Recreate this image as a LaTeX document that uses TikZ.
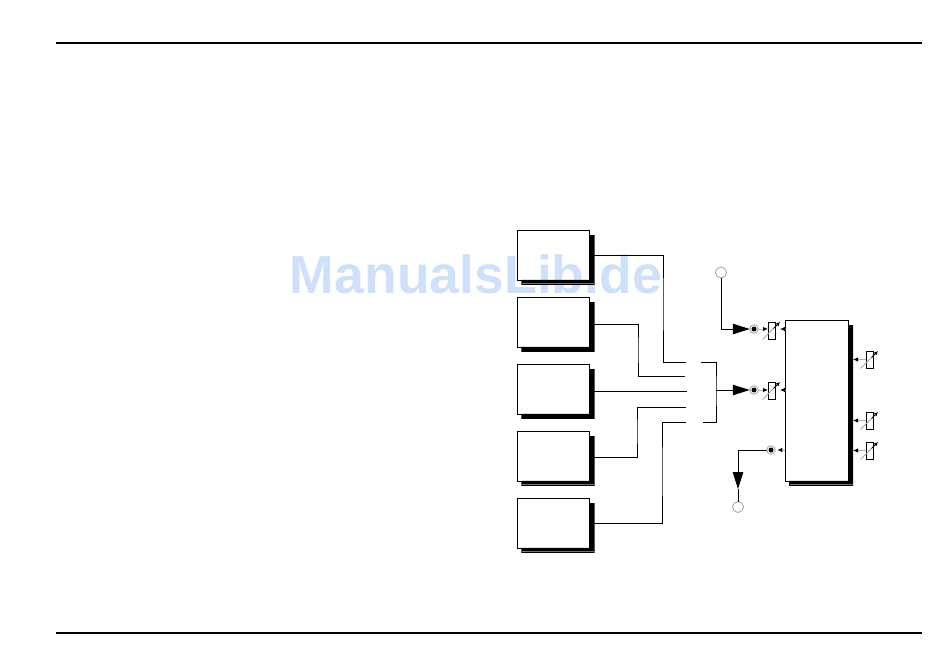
\documentclass[tikz,border=0pt]{standalone}
\usepackage{fontspec}
\newfontfamily\markfont{Liberation Sans}
\usetikzlibrary{arrows.meta,calc,positioning}
\definecolor{markblue}{HTML}{CFE1FA}
\tikzset{
  unit/.style={rectangle,draw,line width=0.55pt,inner sep=0pt,outer sep=0pt,minimum width=1.45cm,minimum height=1cm},
  bigunit/.style={unit,minimum width=1.26cm,minimum height=3.22cm},
  trim/.style={rectangle,draw,line width=0.55pt,inner sep=0pt,outer sep=0pt,minimum width=0.14cm,minimum height=0.34cm},
  socket/.style={circle,draw=black!35,line width=0.5pt,inner sep=0pt,outer sep=0pt,minimum size=0.17cm,
    path picture={\fill (path picture bounding box.center) circle (0.05cm);}},
  jack/.style={circle,draw=black!35,line width=0.5pt,inner sep=0pt,outer sep=0pt,minimum size=0.22cm},
  wire/.style={line width=0.55pt},
  feed/.style={wire,-{Triangle[length=0.34cm,width=0.21cm]}},
  stub/.style={draw=black!30,line width=0.5pt,-{Latex[black,length=0.1cm,width=0.09cm]}},
  rule/.style={line width=0.85pt}
}
\begin{document}
\begin{tikzpicture}[x=0.02cm,y=-0.02cm]
\useasboundingbox (0,0) rectangle (950,655);
\node[font=\markfont\bfseries\fontsize{30.5pt}{30.5pt}\selectfont,text=markblue] (mark) at (476,274) {ManualsLib.de};
% page rules
\coordinate (ruleAl) at (56,43);
\coordinate (ruleAr) at (922,43);
\coordinate (ruleBl) at (56,633);
\coordinate (ruleBr) at (922,633);
\draw[rule] (ruleAl) -- (ruleAr);
\draw[rule] (ruleBl) -- (ruleBr);
% boxes on the left and the big one, shadows as L shapes
\node[bigunit] (bigbox) at (816.5,400.5) {};
\foreach \name/\ypos in {box1/255,box2/322,box3/389,box4/456,box5/523}{
  \node[unit] (\name) at (553.5,\ypos) {};
}
\foreach \name in {box1,box2,box3,box4,box5,bigbox}{
  \fill ($(\name.south west)+(4,0)$) -- ($(\name.south west)+(4,5)$) -- ($(\name.south east)+(5,5)$)
        -- ($(\name.north east)+(5,5)$) -- ($(\name.north east)+(0,5)$) -- (\name.south east) -- cycle;
}
\foreach \name in {box1,box4,box5,bigbox}{
  \draw[black!55,line width=0.3pt] ($(\name.south west)+(5,3.5)$) -- ($(\name.south east)+(4.5,3.5)$);
}
% wire ends at the bracket
\coordinate (in1) at (686,362);
\coordinate (in2) at (685,376);
\coordinate (in3) at (687,391);
\coordinate (in4) at (686,407);
\coordinate (in5) at (686,422);
\draw[wire] (box1.east) -| (663,300) |- (in1);
\draw[wire] ($(box2.east)+(0,2)$) -| (638,350) |- (in2);
\draw[wire] ($(box3.east)+(0,2)$) -- (in3);
\draw[wire] ($(box4.east)+(0,1)$) -| (637,430) |- (in4);
\draw[wire] (box5.east) -| (662,470) |- (in5);
% bracket
\coordinate (brtop) at (701,362);
\coordinate (brbot) at (703,422);
\coordinate (brjoin) at (716,390);
\draw[wire] (brtop) -| (brjoin) |- (brbot);
% sockets and jacks
\node[socket] (socket1) at (754,329) {};
\node[socket] (socket2) at (754,390) {};
\node[socket] (socket3) at (771,450) {};
\node[jack] (jackA) at (721,272.5) {};
\node[jack] (jackB) at (738,507) {};
\coordinate (tipB) at (738,489);
\draw[feed] (jackA) |- (socket1);
\draw[feed] (brjoin) -- (socket2);
\draw[feed] (socket3) -| (tipB);
\draw[wire] (tipB) -- (jackB);
% trimmers
\foreach \name/\xpos/\ypos in {rv1/771.5/330.5,rv2/771.5/390.5,rv3/869.5/359.5,rv4/869.5/420.5,rv5/869.5/450.5}{
  \node[trim] (\name) at (\xpos,\ypos) {};
  \draw[draw=black!35,line width=0.5pt] ($(\name.center)+(-9,9)$) -- ($(\name.center)+(2,-2)$);
  \draw[line width=0.5pt,-{Latex[length=0.08cm,width=0.08cm]}] ($(\name.center)+(2,-2)$) -- ($(\name.center)+(8.5,-8.5)$);
}
\draw[stub] (socket1) -- (rv1.west |- socket1);
\draw[stub] (socket2) -- (rv2.west |- socket2);
\draw[stub] (bigbox.west |- socket1) -- ([xshift=0.1cm]rv1.east |- socket1);
\draw[stub] (bigbox.west |- socket2) -- ([xshift=0.1cm]rv2.east |- socket2);
\draw[stub] (bigbox.west |- socket3) -- ([xshift=0.04cm]socket3.east);
\draw[stub] (rv3.west) -- ([xshift=0.1cm]bigbox.east |- rv3);
\draw[stub] (rv4.west) -- ([xshift=0.1cm]bigbox.east |- rv4);
\draw[stub] (rv5.west) -- ([xshift=0.1cm]bigbox.east |- rv5);
\end{tikzpicture}
\end{document}
